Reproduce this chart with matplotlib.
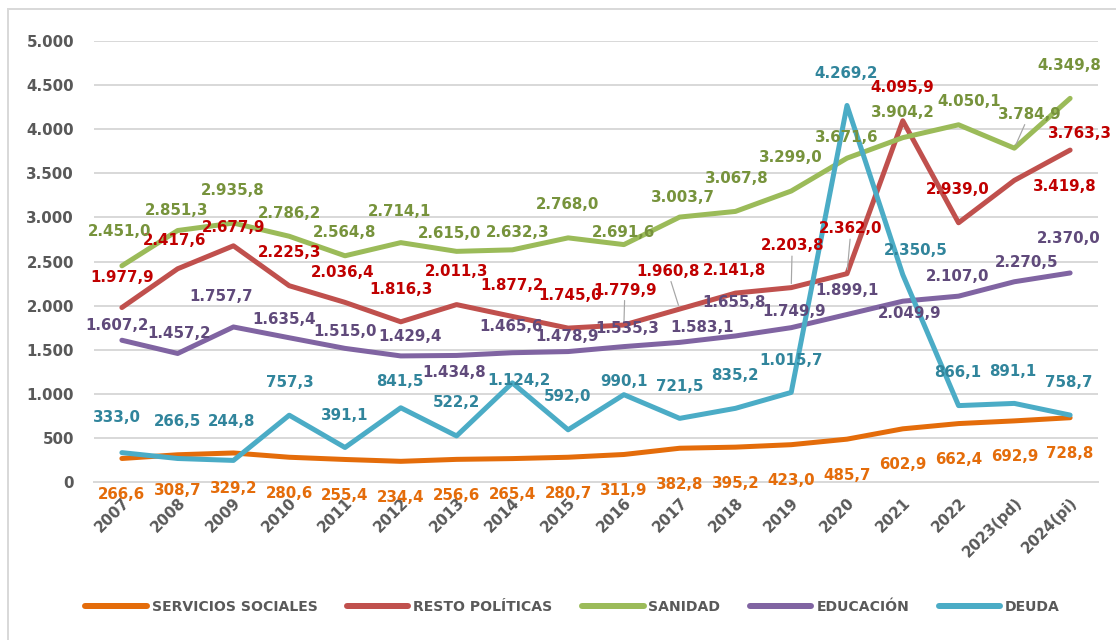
import numpy as np
import matplotlib
matplotlib.use("Agg")
import matplotlib.pyplot as plt
from matplotlib.lines import Line2D
from matplotlib.ticker import FuncFormatter

years = ["2007", "2008", "2009", "2010", "2011", "2012", "2013", "2014", "2015",
         "2016", "2017", "2018", "2019", "2020", "2021", "2022", "2023(pd)", "2024(pi)"]

servicios = [266.6, 308.7, 329.2, 280.6, 255.4, 234.4, 256.6, 265.4, 280.7,
             311.9, 382.8, 395.2, 423.0, 485.7, 602.9, 662.4, 692.9, 728.8]
resto = [1977.9, 2417.6, 2677.9, 2225.3, 2036.4, 1816.3, 2011.3, 1877.2, 1745.0,
         1779.9, 1960.8, 2141.8, 2203.8, 2362.0, 4095.9, 2939.0, 3419.8, 3763.3]
sanidad = [2451.0, 2851.3, 2935.8, 2786.2, 2564.8, 2714.1, 2615.0, 2632.3, 2768.0,
           2691.6, 3003.7, 3067.8, 3299.0, 3671.6, 3904.2, 4050.1, 3784.9, 4349.8]
educacion = [1607.2, 1457.2, 1757.7, 1635.4, 1515.0, 1429.4, 1434.8, 1465.6, 1478.9,
             1535.3, 1583.1, 1655.8, 1749.9, 1899.1, 2049.9, 2107.0, 2270.5, 2370.0]
deuda = [333.0, 266.5, 244.8, 757.3, 391.1, 841.5, 522.2, 1124.2, 592.0,
         990.1, 721.5, 835.2, 1015.7, 4269.2, 2350.5, 866.1, 891.1, 758.7]

names = ["SERVICIOS SOCIALES", "RESTO POLÍTICAS", "SANIDAD", "EDUCACIÓN", "DEUDA"]
line_colors = ["#E46C0A", "#C0504D", "#9BBB59", "#8064A2", "#4BACC6"]
text_colors = ["#E46C0A", "#C00000", "#77933C", "#604A7B", "#31859C"]

# label offsets (dx, dy) in points, dy up
off_serv = [(0, -36)] * 18
off_resto = [(0, 30), (-3, 28), (0, 18), (0, 33), (-2, 30), (0, 32), (0, 33), (0, 31), (2, 33),
             (1, 35), (-12, 38), (-1, 23), (1, 42), (4, 45), (-1, 33), (-1, 33), (50, -6), (10, 17)]
off_san = [(-2, 34), (-1, 20), (-1, 33), (0, 23), (0, 23), (-1, 31), (-7, 18), (5, 17), (-1, 33),
           (0, 12), (3, 20), (1, 33), (0, 34), (0, 21), (0, 25), (11, 23), (15, 34), (-1, 33)]
off_edu = [(-5, 15), (1, 20), (-12, 30), (-5, 18), (0, 17), (9, 19), (-2, -17), (-1, 26), (-1, 15),
           (3, 18), (22, 15), (-1, 33), (3, 16), (0, 24), (7, -12), (-1, 20), (12, 19), (-1, 34)]
off_deu = [(-5, 35), (0, 37), (-2, 39), (1, 33), (0, 32), (-1, 26), (0, 33), (7, 2), (-1, 33),
           (0, 13), (0, 32), (-1, 33), (0, 32), (-1, 32), (13, 24), (-1, 33), (-2, 32), (-1, 33)]

leaders = {(1, 9), (1, 10), (1, 12), (1, 13), (2, 16)}

series = [servicios, resto, sanidad, educacion, deuda]
offsets = [off_serv, off_resto, off_san, off_edu, off_deu]


def fmt(v):
    s = f"{v:,.1f}"
    return s.replace(",", "X").replace(".", ",").replace("X", ".")


fig = plt.figure(figsize=(1116 / 72, 640 / 72), dpi=72)
ax = fig.add_axes([94 / 1116, 1 - 482 / 640, 1004 / 1116, 441 / 640])

x = np.arange(len(years))
for k, vals in enumerate(series):
    ax.plot(x, vals, color=line_colors[k], lw=5, solid_joinstyle="round",
            solid_capstyle="round", label=names[k], zorder=3 + k)

for k, vals in enumerate(series):
    for i, v in enumerate(vals):
        dx, dy = offsets[k][i]
        kw = {}
        if (k, i) in leaders:
            kw["arrowprops"] = dict(arrowstyle="-", color="#A6A6A6", lw=1.2,
                                    shrinkA=1, shrinkB=4)
        ax.annotate(fmt(v), xy=(i, v), xytext=(dx, dy), textcoords="offset points",
                    ha="center", va="center", fontsize=15, fontweight="bold",
                    color=text_colors[k], zorder=20, **kw)

ax.set_xlim(-0.5, len(years) - 0.5)
ax.set_ylim(0, 5000)
ax.set_yticks(np.arange(0, 5001, 500))
ax.yaxis.set_major_formatter(FuncFormatter(lambda v, p: f"{int(v):,}".replace(",", ".")))
ax.grid(axis="y", color="#D9D9D9", lw=2)
ax.set_axisbelow(True)
for s in ["top", "right", "left"]:
    ax.spines[s].set_visible(False)
ax.spines["bottom"].set_color("#D9D9D9")
ax.spines["bottom"].set_linewidth(2)
ax.tick_params(axis="both", length=0, labelsize=15, labelcolor="#595959")
ax.tick_params(axis="y", pad=20)
ax.tick_params(axis="x", pad=13)
ax.set_xticks(x)
ax.set_xticklabels(years, rotation=45, ha="right", rotation_mode="anchor", fontweight="bold")
for t in ax.get_yticklabels():
    t.set_fontweight("bold")

fig.legend(loc="center", bbox_to_anchor=(0.513, 1 - 607 / 640), ncol=5, frameon=False,
           handlelength=4.4, handletextpad=0.35, columnspacing=2.1,
           prop={"size": 14, "weight": "bold"}, labelcolor="#595959")
for h in fig.legends[0].get_lines():
    h.set_linewidth(6)

# chart frame (left and top edges visible)
fig.add_artist(Line2D([8 / 1116, 8 / 1116], [0, 1 - 9 / 640], transform=fig.transFigure,
                      color="#D9D9D9", lw=2))
fig.add_artist(Line2D([8 / 1116, 1], [1 - 9 / 640, 1 - 9 / 640], transform=fig.transFigure,
                      color="#D9D9D9", lw=2))

fig.savefig("out.png", dpi=72)
